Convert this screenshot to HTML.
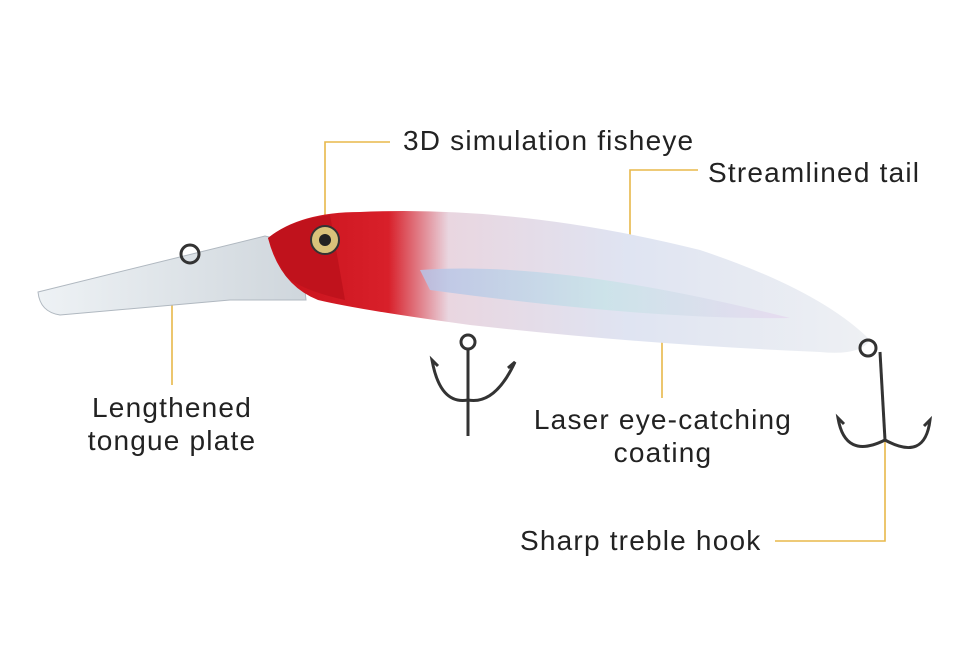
<!DOCTYPE html>
<html><head><meta charset="utf-8"><style>
html,body{margin:0;padding:0;background:#fff}
svg{display:block}
text{font-family:"Liberation Sans",sans-serif;font-size:28px;letter-spacing:1.2px;fill:#222}
</style></head><body>
<svg width="960" height="671" viewBox="0 0 960 671" xmlns="http://www.w3.org/2000/svg">
<defs>
<linearGradient id="body" x1="0" y1="0" x2="1" y2="0">
<stop offset="0" stop-color="#c8101a"/>
<stop offset="0.2" stop-color="#d8202a"/>
<stop offset="0.3" stop-color="#e9d6e0"/>
<stop offset="0.6" stop-color="#dfe4f2"/>
<stop offset="1" stop-color="#eef0f3"/>
</linearGradient>
<linearGradient id="shine" x1="0" y1="0" x2="1" y2="0">
<stop offset="0" stop-color="#b7c2e6"/>
<stop offset="0.5" stop-color="#c9e3e8"/>
<stop offset="1" stop-color="#e6d9ef"/>
</linearGradient>
<linearGradient id="lip" x1="0" y1="0" x2="1" y2="0">
<stop offset="0" stop-color="#eef2f5"/>
<stop offset="1" stop-color="#cfd6dc"/>
</linearGradient>
</defs>
<g stroke="#e8b84a" stroke-width="1.6" fill="none">
<polyline points="390,142 325,142 325,215"/>
<polyline points="698,170 630,170 630,265"/>
<line x1="172" y1="280" x2="172" y2="385"/>
<line x1="662" y1="290" x2="662" y2="398"/>
<polyline points="775,541 885,541 885,440"/>
</g>
<path d="M38,292 L265,236 L300,244 L306,300 L230,300 L60,315 Q40,312 38,292Z" fill="url(#lip)" stroke="#b0b8c0" stroke-width="1"/>
<path d="M268,238 Q300,212 360,212 Q520,205 700,250 Q820,290 870,340 Q860,356 820,352 Q650,345 470,325 Q360,310 318,300 Q280,285 268,238Z" fill="url(#body)"/>
<path d="M420,270 Q560,260 790,318 Q650,320 430,290Z" fill="url(#shine)" opacity="0.85"/>
<path d="M268,238 Q290,220 330,215 L345,300 Q300,290 285,275Z" fill="#c0121c"/>
<circle cx="325" cy="240" r="14" fill="#d9c27a" stroke="#333" stroke-width="2"/>
<circle cx="325" cy="240" r="6" fill="#222"/>
<g stroke="#333" stroke-width="3" fill="none">
<circle cx="190" cy="254" r="9"/>
<circle cx="468" cy="342" r="7"/>
<line x1="468" y1="349" x2="468" y2="436"/>
<path d="M468,400 Q440,405 432,360 l6,6"/>
<path d="M468,400 Q495,405 515,362 l-7,6"/>
<circle cx="868" cy="348" r="8"/>
<line x1="880" y1="352" x2="885" y2="440"/>
<path d="M885,440 Q845,460 838,418 l6,6"/>
<path d="M885,440 Q925,462 930,420 l-6,6"/>
</g>
<text x="403" y="150">3D simulation fisheye</text>
<text x="708" y="182">Streamlined tail</text>
<text x="172" y="417" text-anchor="middle">Lengthened</text>
<text x="172" y="450" text-anchor="middle">tongue plate</text>
<text x="663" y="429" text-anchor="middle">Laser eye-catching</text>
<text x="663" y="462" text-anchor="middle">coating</text>
<text x="520" y="550">Sharp treble hook</text>
</svg>
</body></html>
